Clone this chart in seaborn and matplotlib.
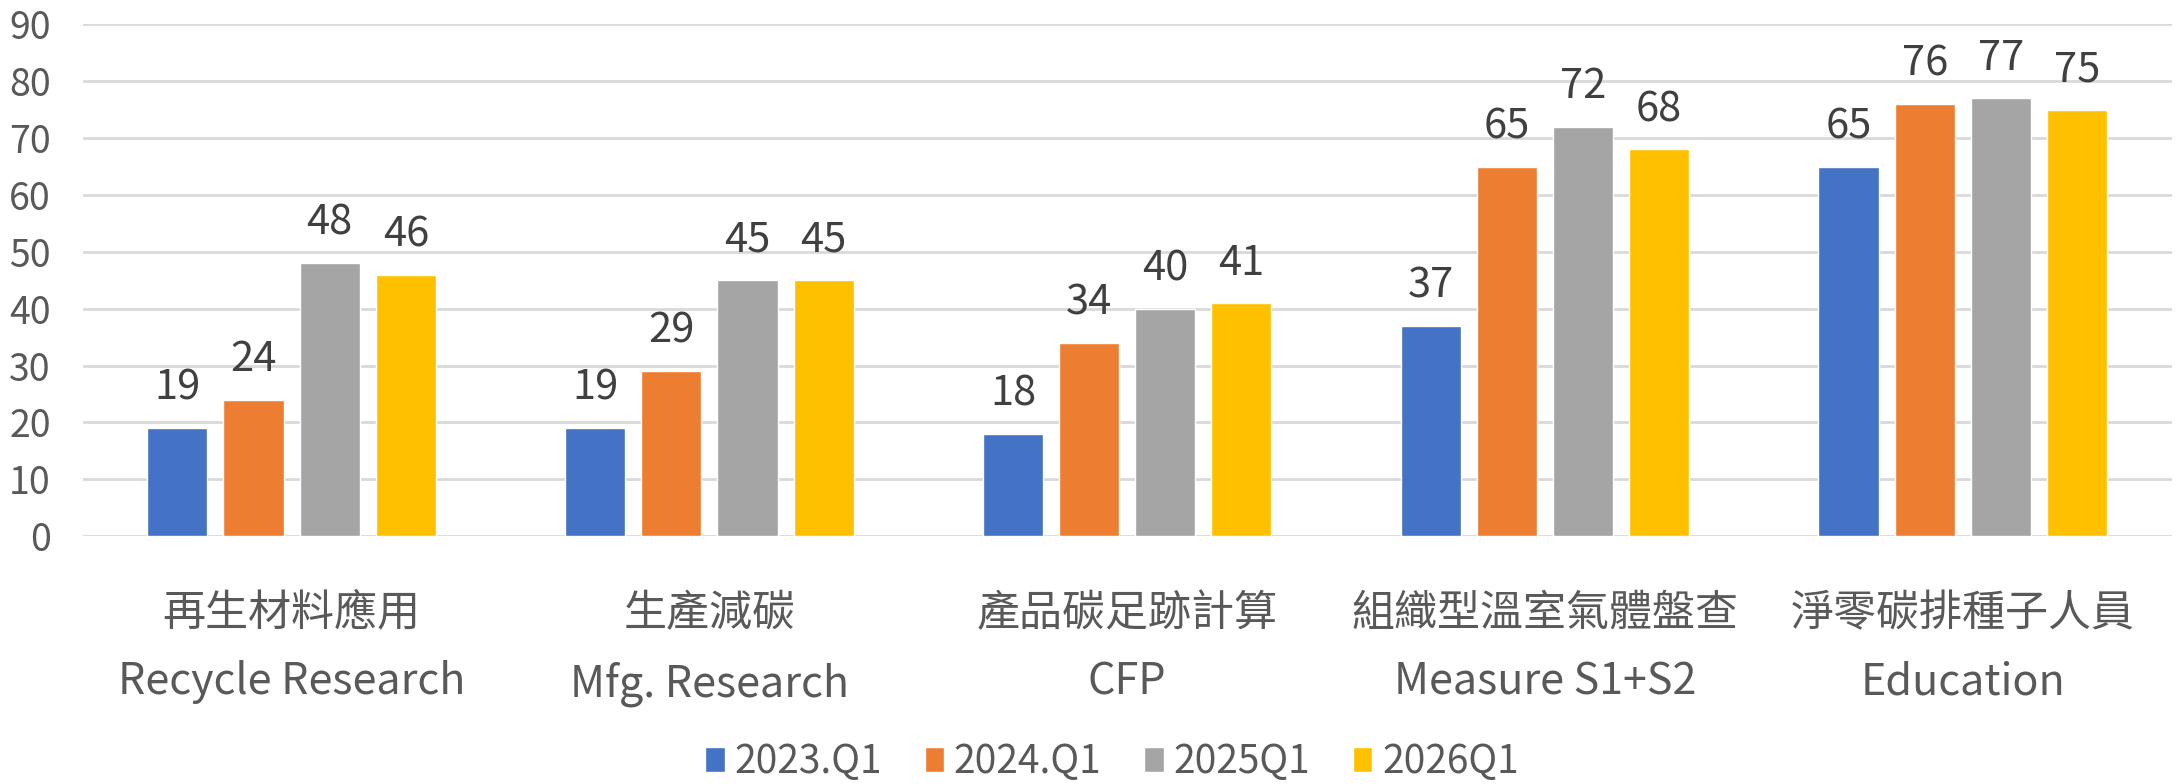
import pandas as pd
import seaborn as sns
import matplotlib.pyplot as plt

# Chart data
categories = ["再生材料應用\nRecycle Research", "生產減碳\nMfg. Research", "產品碳足跡計算\nCFP",
              "組織型溫室氣體盤查\nMeasure S1+S2", "淨零碳排種子人員\nEducation"]
series = ["2023.Q1", "2024.Q1", "2025Q1", "2026Q1"]
v2023 = [19, 19, 18, 37, 65]
v2024 = [24, 29, 34, 65, 76]
v2025 = [48, 45, 40, 72, 77]
v2026 = [46, 45, 41, 68, 75]
colors = ["#4472C4", "#ED7D31", "#A5A5A5", "#FFC000"]

rows = []
for s, vals in zip(series, [v2023, v2024, v2025, v2026]):
    for c, v in zip(categories, vals):
        rows.append({"category": c, "series": s, "value": v})
df = pd.DataFrame(rows)

sns.set_style("white")
plt.rcParams["font.family"] = ["Noto Sans CJK TC", "DejaVu Sans"]

fig = plt.figure(figsize=(21.76, 7.84), dpi=100)
ax = fig.add_axes([0.038, 0.316, 0.96, 0.653])

sns.barplot(data=df, x="category", y="value", hue="series", palette=colors,
            width=0.729, gap=0.21, ax=ax, saturation=1, errorbar=None, legend=True)

for cont in ax.containers:
    ax.bar_label(cont, padding=14, fontsize=30, color="#404040")

ax.set_ylim(0, 90)
ax.set_yticks(range(0, 91, 10))
ax.set_xlim(-0.5, 4.5)
ax.grid(axis="y", color="#D9D9D9", linewidth=2)
ax.set_axisbelow(True)
for sp in ax.spines.values():
    sp.set_visible(False)
ax.tick_params(axis="y", length=0, pad=23, labelsize=27, labelcolor="#595959")
ax.tick_params(axis="x", length=0, pad=40)
ax.set_xticks(range(len(categories)))
ax.set_xticklabels(categories, fontsize=31, color="#595959", linespacing=1.72)
ax.set_xlabel("")
ax.set_ylabel("")

handles, labels = ax.get_legend_handles_labels()
ax.legend(handles, labels, loc="center", bbox_to_anchor=(0.511, 0.028),
          bbox_transform=fig.transFigure, ncol=4, frameon=False,
          fontsize=28, labelcolor="#595959", handlelength=0.5, handleheight=0.6,
          handletextpad=0.25, columnspacing=1.1)

plt.savefig("out.png", dpi=100)
